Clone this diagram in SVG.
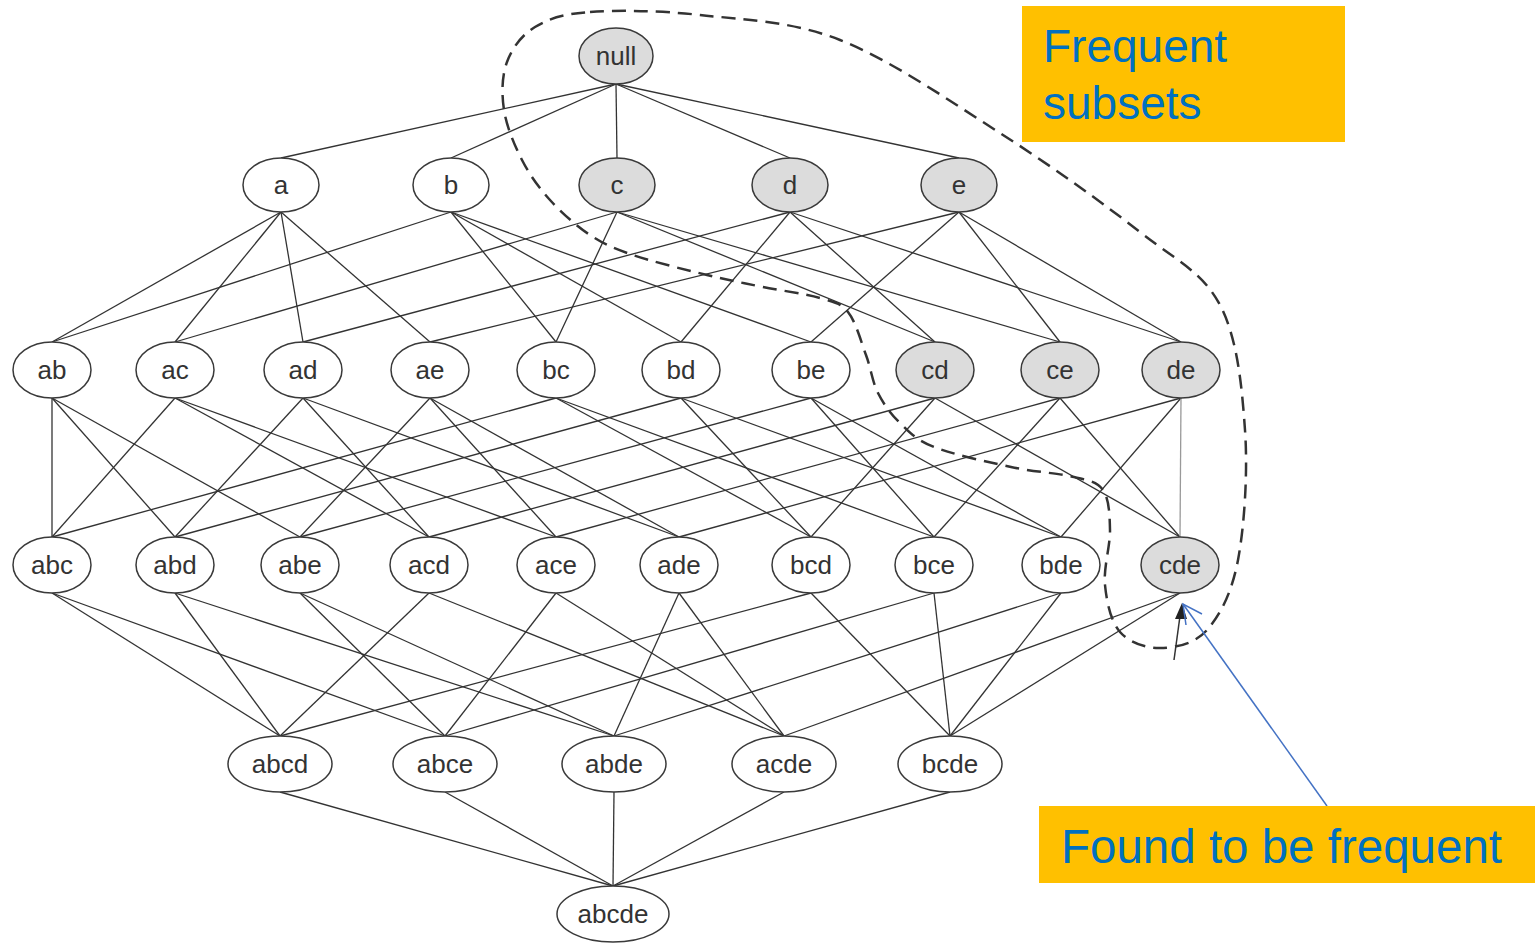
<svg xmlns="http://www.w3.org/2000/svg" width="1536" height="944" viewBox="0 0 1536 944">
<style>
.n ellipse{fill:#fff;stroke:#3a3a3a;stroke-width:1.5}
.n.f ellipse{fill:#dcdcdc}
.n text{font-family:"Liberation Sans",Arial,sans-serif;font-size:26px;fill:#333;text-anchor:middle}
.e line{stroke:#333;stroke-width:1.3}
.callout{font-family:"Liberation Sans",Arial,sans-serif;fill:#0070C0}
</style>
<rect width="1536" height="944" fill="#fff"/>
<g id="connectors" class="e">
<line x1="616" y1="84" x2="281" y2="158"/><line x1="616" y1="84" x2="451" y2="158"/><line x1="616" y1="84" x2="617" y2="158"/><line x1="616" y1="84" x2="790" y2="158"/><line x1="616" y1="84" x2="959" y2="158"/>
<line x1="281" y1="212" x2="52" y2="342"/><line x1="281" y1="212" x2="175" y2="342"/><line x1="281" y1="212" x2="303" y2="342"/><line x1="281" y1="212" x2="430" y2="342"/>
<line x1="451" y1="212" x2="52" y2="342"/><line x1="451" y1="212" x2="556" y2="342"/><line x1="451" y1="212" x2="681" y2="342"/><line x1="451" y1="212" x2="811" y2="342"/>
<line x1="617" y1="212" x2="175" y2="342"/><line x1="617" y1="212" x2="556" y2="342"/><line x1="617" y1="212" x2="935" y2="342"/><line x1="617" y1="212" x2="1060" y2="342"/>
<line x1="790" y1="212" x2="303" y2="342"/><line x1="790" y1="212" x2="681" y2="342"/><line x1="790" y1="212" x2="935" y2="342"/><line x1="790" y1="212" x2="1181" y2="342"/>
<line x1="959" y1="212" x2="430" y2="342"/><line x1="959" y1="212" x2="811" y2="342"/><line x1="959" y1="212" x2="1060" y2="342"/><line x1="959" y1="212" x2="1181" y2="342"/>
<line x1="52" y1="398" x2="52" y2="537"/><line x1="52" y1="398" x2="175" y2="537"/><line x1="52" y1="398" x2="300" y2="537"/>
<line x1="175" y1="398" x2="52" y2="537"/><line x1="175" y1="398" x2="429" y2="537"/><line x1="175" y1="398" x2="556" y2="537"/>
<line x1="303" y1="398" x2="175" y2="537"/><line x1="303" y1="398" x2="429" y2="537"/><line x1="303" y1="398" x2="679" y2="537"/>
<line x1="430" y1="398" x2="300" y2="537"/><line x1="430" y1="398" x2="556" y2="537"/><line x1="430" y1="398" x2="679" y2="537"/>
<line x1="556" y1="398" x2="52" y2="537"/><line x1="556" y1="398" x2="811" y2="537"/><line x1="556" y1="398" x2="934" y2="537"/>
<line x1="681" y1="398" x2="175" y2="537"/><line x1="681" y1="398" x2="811" y2="537"/><line x1="681" y1="398" x2="1061" y2="537"/>
<line x1="811" y1="398" x2="300" y2="537"/><line x1="811" y1="398" x2="934" y2="537"/><line x1="811" y1="398" x2="1061" y2="537"/>
<line x1="935" y1="398" x2="429" y2="537"/><line x1="935" y1="398" x2="811" y2="537"/><line x1="935" y1="398" x2="1180" y2="537"/>
<line x1="1060" y1="398" x2="556" y2="537"/><line x1="1060" y1="398" x2="934" y2="537"/><line x1="1060" y1="398" x2="1180" y2="537"/>
<line x1="1181" y1="398" x2="679" y2="537"/><line x1="1181" y1="398" x2="1061" y2="537"/><line x1="1181" y1="398" x2="1180" y2="537" style="stroke:#999"/>
<line x1="52" y1="593" x2="280" y2="736"/><line x1="52" y1="593" x2="445" y2="736"/>
<line x1="175" y1="593" x2="280" y2="736"/><line x1="175" y1="593" x2="614" y2="736"/>
<line x1="300" y1="593" x2="445" y2="736"/><line x1="300" y1="593" x2="614" y2="736"/>
<line x1="429" y1="593" x2="280" y2="736"/><line x1="429" y1="593" x2="784" y2="736"/>
<line x1="556" y1="593" x2="445" y2="736"/><line x1="556" y1="593" x2="784" y2="736"/>
<line x1="679" y1="593" x2="614" y2="736"/><line x1="679" y1="593" x2="784" y2="736"/>
<line x1="811" y1="593" x2="280" y2="736"/><line x1="811" y1="593" x2="950" y2="736"/>
<line x1="934" y1="593" x2="445" y2="736"/><line x1="934" y1="593" x2="950" y2="736"/>
<line x1="1061" y1="593" x2="614" y2="736"/><line x1="1061" y1="593" x2="950" y2="736"/>
<line x1="1180" y1="593" x2="784" y2="736"/><line x1="1180" y1="593" x2="950" y2="736"/>
<line x1="280" y1="792" x2="613" y2="886"/><line x1="445" y1="792" x2="613" y2="886"/><line x1="614" y1="792" x2="613" y2="886"/><line x1="784" y1="792" x2="613" y2="886"/><line x1="950" y1="792" x2="613" y2="886"/>
</g>
<g id="nodes">
<g id="n-null" class="n f"><ellipse cx="616" cy="56" rx="37" ry="28"/><text x="616" y="65">null</text></g>
<g id="n-a" class="n"><ellipse cx="281" cy="185" rx="38" ry="27"/><text x="281" y="194">a</text></g>
<g id="n-b" class="n"><ellipse cx="451" cy="185" rx="38" ry="27"/><text x="451" y="194">b</text></g>
<g id="n-c" class="n f"><ellipse cx="617" cy="185" rx="38" ry="27"/><text x="617" y="194">c</text></g>
<g id="n-d" class="n f"><ellipse cx="790" cy="185" rx="38" ry="27"/><text x="790" y="194">d</text></g>
<g id="n-e" class="n f"><ellipse cx="959" cy="185" rx="38" ry="27"/><text x="959" y="194">e</text></g>
<g id="n-ab" class="n"><ellipse cx="52" cy="370" rx="39" ry="28"/><text x="52" y="379">ab</text></g>
<g id="n-ac" class="n"><ellipse cx="175" cy="370" rx="39" ry="28"/><text x="175" y="379">ac</text></g>
<g id="n-ad" class="n"><ellipse cx="303" cy="370" rx="39" ry="28"/><text x="303" y="379">ad</text></g>
<g id="n-ae" class="n"><ellipse cx="430" cy="370" rx="39" ry="28"/><text x="430" y="379">ae</text></g>
<g id="n-bc" class="n"><ellipse cx="556" cy="370" rx="39" ry="28"/><text x="556" y="379">bc</text></g>
<g id="n-bd" class="n"><ellipse cx="681" cy="370" rx="39" ry="28"/><text x="681" y="379">bd</text></g>
<g id="n-be" class="n"><ellipse cx="811" cy="370" rx="39" ry="28"/><text x="811" y="379">be</text></g>
<g id="n-cd" class="n f"><ellipse cx="935" cy="370" rx="39" ry="28"/><text x="935" y="379">cd</text></g>
<g id="n-ce" class="n f"><ellipse cx="1060" cy="370" rx="39" ry="28"/><text x="1060" y="379">ce</text></g>
<g id="n-de" class="n f"><ellipse cx="1181" cy="370" rx="39" ry="28"/><text x="1181" y="379">de</text></g>
<g id="n-abc" class="n"><ellipse cx="52" cy="565" rx="39" ry="28"/><text x="52" y="574">abc</text></g>
<g id="n-abd" class="n"><ellipse cx="175" cy="565" rx="39" ry="28"/><text x="175" y="574">abd</text></g>
<g id="n-abe" class="n"><ellipse cx="300" cy="565" rx="39" ry="28"/><text x="300" y="574">abe</text></g>
<g id="n-acd" class="n"><ellipse cx="429" cy="565" rx="39" ry="28"/><text x="429" y="574">acd</text></g>
<g id="n-ace" class="n"><ellipse cx="556" cy="565" rx="39" ry="28"/><text x="556" y="574">ace</text></g>
<g id="n-ade" class="n"><ellipse cx="679" cy="565" rx="39" ry="28"/><text x="679" y="574">ade</text></g>
<g id="n-bcd" class="n"><ellipse cx="811" cy="565" rx="39" ry="28"/><text x="811" y="574">bcd</text></g>
<g id="n-bce" class="n"><ellipse cx="934" cy="565" rx="39" ry="28"/><text x="934" y="574">bce</text></g>
<g id="n-bde" class="n"><ellipse cx="1061" cy="565" rx="39" ry="28"/><text x="1061" y="574">bde</text></g>
<g id="n-cde" class="n f"><ellipse cx="1180" cy="565" rx="39" ry="28"/><text x="1180" y="574">cde</text></g>
<g id="n-abcd" class="n"><ellipse cx="280" cy="764" rx="52" ry="28"/><text x="280" y="773">abcd</text></g>
<g id="n-abce" class="n"><ellipse cx="445" cy="764" rx="52" ry="28"/><text x="445" y="773">abce</text></g>
<g id="n-abde" class="n"><ellipse cx="614" cy="764" rx="52" ry="28"/><text x="614" y="773">abde</text></g>
<g id="n-acde" class="n"><ellipse cx="784" cy="764" rx="52" ry="28"/><text x="784" y="773">acde</text></g>
<g id="n-bcde" class="n"><ellipse cx="950" cy="764" rx="52" ry="28"/><text x="950" y="773">bcde</text></g>
<g id="n-abcde" class="n"><ellipse cx="613" cy="914" rx="56" ry="28"/><text x="613" y="923">abcde</text></g>
</g>
<g id="boundary">
<path fill="none" stroke="#333" stroke-width="2.5" stroke-dasharray="14 8" d="M590,12 C617.5,10 658.3,10.3 700,15 C741.7,19.7 790,20.3 840,40 C890,59.7 950,101 1000,133 C1050,165 1103.3,203.3 1140,232 C1176.7,260.7 1202.5,272 1220,305 C1237.5,338 1242,387.5 1245,430 C1248,472.5 1244.3,526.7 1238,560 C1231.7,593.3 1220,615.3 1207,630 C1194,644.7 1174.5,647.7 1160,648 C1145.5,648.3 1129.2,642.5 1120,632 C1110.8,621.5 1106.7,602 1105,585 C1103.3,568 1110.3,545.8 1110,530 C1109.7,514.2 1109,498.8 1103,490 C1097,481.2 1089.3,480.8 1074,477 C1058.7,473.2 1034.3,472 1011,467 C987.7,462 952.5,454.3 934,447 C915.5,439.7 909.3,432 900,423 C890.7,414 883.7,404.3 878,393 C872.3,381.7 871,368.5 866,355 C861,341.5 855.7,321.5 848,312 C840.3,302.5 834.2,302.2 820,298 C805.8,293.8 781.8,290.8 763,287 C744.2,283.2 728.7,280.3 707,275 C685.3,269.7 652.5,261.7 633,255 C613.5,248.3 603.8,244.2 590,235 C576.2,225.8 561.3,212.5 550,200 C538.7,187.5 529.7,175 522,160 C514.3,145 506.5,126.3 504,110 C501.5,93.7 501.8,75.8 507,62 C512.2,48.2 521.2,35.3 535,27 C548.8,18.7 562.5,14 590,12 Z"/>
<line x1="1174" y1="660" x2="1180" y2="616" stroke="#333" stroke-width="1.5"/>
<polygon points="1182,603 1175,619 1187,619" fill="#222"/>
</g>
<g id="callout-frequent">
<rect x="1022" y="6" width="323" height="136" fill="#FFC000"/>
<text class="callout" x="1043" y="62" font-size="46">Frequent</text>
<text class="callout" x="1043" y="119" font-size="46">subsets</text>
</g>
<g id="callout-found">
<line x1="1327" y1="806" x2="1183" y2="604" stroke="#4472C4" stroke-width="1.5"/>
<polyline points="1202,614 1183,604 1186,625" fill="none" stroke="#4472C4" stroke-width="1.5"/>
<rect x="1039" y="806" width="496" height="77" fill="#FFC000"/>
<text class="callout" x="1061" y="863" font-size="47.5">Found to be frequent</text>
</g>
</svg>
